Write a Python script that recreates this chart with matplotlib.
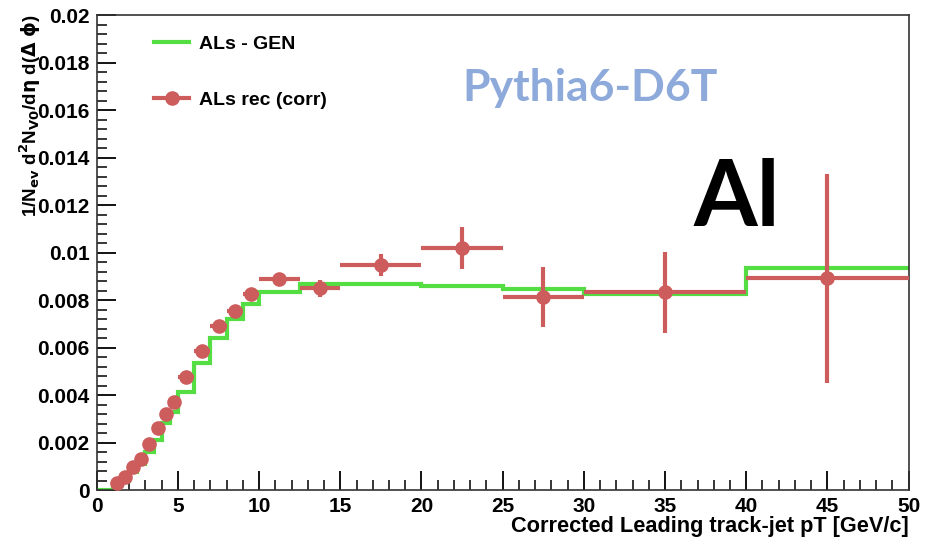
import matplotlib
matplotlib.use("Agg")
from matplotlib import pyplot as plt
from matplotlib.lines import Line2D
from matplotlib.ticker import MultipleLocator
import numpy as np

# bin edges (GeV/c)
edges = [0, 1, 1.5, 2, 2.5, 3, 3.5, 4, 4.5, 5, 6, 7, 8, 9, 10, 12.5, 15, 20, 25, 30, 40, 50]

# generator level histogram (one value per bin)
gen = [0.0, 0.0002, 0.0004, 0.00077, 0.00112, 0.00161, 0.00213, 0.00283, 0.0033,
       0.00414, 0.00536, 0.00639, 0.00719, 0.00783, 0.00835, 0.00867, 0.00867,
       0.0086, 0.00845, 0.00826, 0.00934]

# reconstructed (corrected), bins from 1 GeV/c on
rec = [0.00031, 0.00056, 0.00096, 0.00133, 0.00194, 0.00262, 0.0032, 0.00372,
       0.00476, 0.00585, 0.00692, 0.00754, 0.00825, 0.00889, 0.00849, 0.00947,
       0.0102, 0.00814, 0.00832, 0.00891]
rec_err = [0.00004, 0.00005, 0.00006, 0.00007, 0.00008, 0.00009, 0.0001, 0.0001,
           0.00012, 0.00013, 0.00014, 0.00015, 0.00017, 0.0002, 0.00035, 0.00045,
           0.00088, 0.00126, 0.00172, 0.0044]

green = "#55dd44"
red = "#cd5c5c"

plt.rcParams["font.family"] = ["Liberation Sans", "DejaVu Sans"]
plt.rcParams["font.weight"] = "bold"
plt.rcParams["axes.labelweight"] = "bold"
plt.rcParams["mathtext.default"] = "bf"

fig = plt.figure(figsize=(9.3, 5.38), dpi=100)
ax = fig.add_axes([0.104, 0.089, 0.873, 0.883])

e = np.array(edges)
ax.stairs(gen, e, color=green, lw=3, baseline=None, zorder=2)

r_edges = e[1:]
centers = (r_edges[:-1] + r_edges[1:]) / 2
half = (r_edges[1:] - r_edges[:-1]) / 2
ax.errorbar(centers, rec, xerr=half, yerr=rec_err, fmt="o", color=red,
            ms=9.5, elinewidth=3, capsize=0, zorder=3)

ax.set_xlim(0, 50)
ax.set_ylim(0, 0.02)
ax.xaxis.set_major_locator(MultipleLocator(5))
ax.xaxis.set_minor_locator(MultipleLocator(1))
ax.yaxis.set_minor_locator(MultipleLocator(0.0004))
ax.set_yticks(np.arange(0, 0.0201, 0.002))
ax.set_yticklabels(["0", "0.002", "0.004", "0.006", "0.008", "0.01", "0.012",
                    "0.014", "0.016", "0.018", "0.02"])
ax.tick_params(which="major", direction="in", length=14, width=1.3, labelsize=15, pad=5)
ax.tick_params(which="minor", direction="in", length=7, width=1.1)
for s in ax.spines.values():
    s.set_linewidth(1.2)
    s.set_color("#333333")

ax.set_xlabel("Corrected Leading track-jet pT [GeV/c]", fontsize=15.7, loc="right",
              labelpad=0)
ax.set_ylabel(r"1/N$_{ev}$ d$^{2}$N$_{V0}$/d$\eta$ d($\Delta$ $\phi$)", fontsize=13.5,
              loc="top")
ax.yaxis.set_label_coords(-0.066, 1.0)

handles = [Line2D([], [], color=green, lw=3),
           Line2D([], [], color=red, lw=3, marker="o", ms=9.5)]
ax.legend(handles, ["ALs - GEN", "ALs rec (corr)"], loc="upper left",
          bbox_to_anchor=(0.071, 0.958), frameon=False, fontsize=14,
          borderpad=0, borderaxespad=0, labelspacing=2.0, handlelength=1.8,
          handletextpad=0.5)

fig.text(0.634, 0.836, "Pythia6-D6T", fontsize=32, color="#8eaadb",
         family="Lato", weight="bold", ha="center", va="center")
fig.text(0.792, 0.628, "Al", fontsize=66, color="black",
         family="Lato", weight="bold", ha="center", va="center")

fig.savefig("out.png", dpi=100)
